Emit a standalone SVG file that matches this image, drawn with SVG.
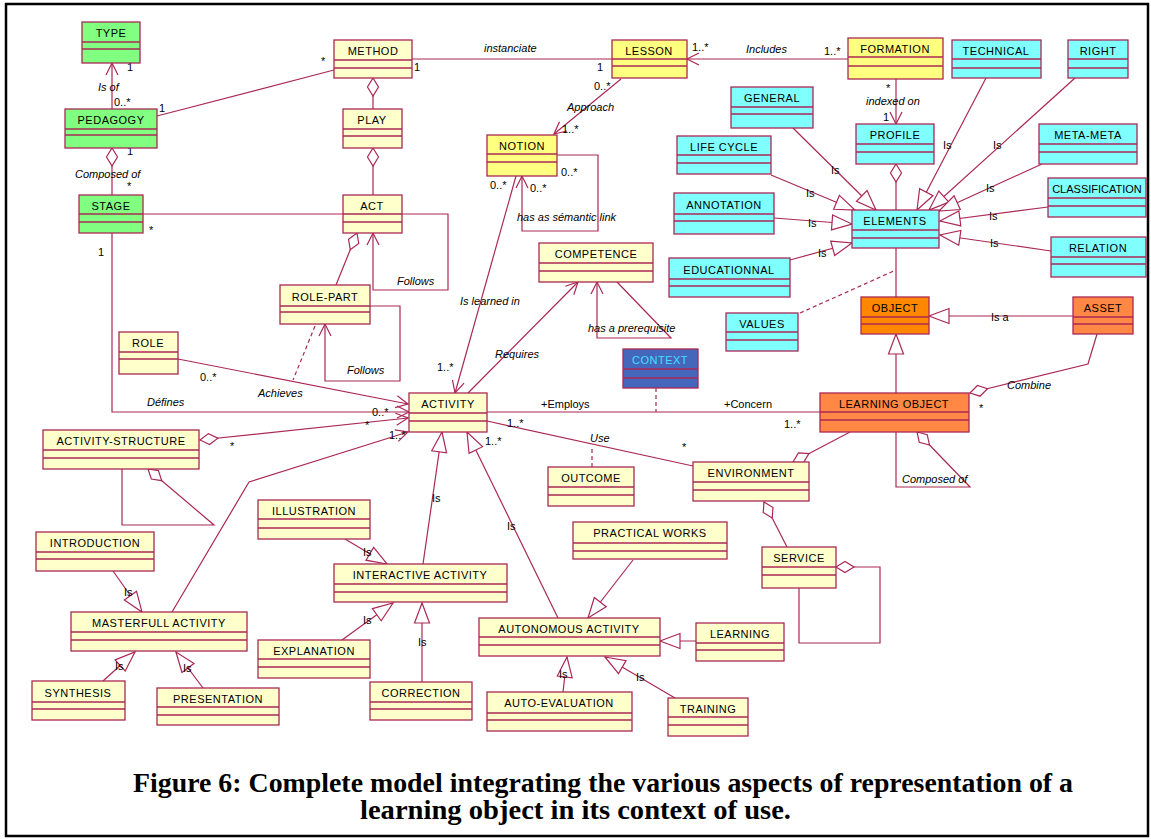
<svg xmlns="http://www.w3.org/2000/svg" width="1151" height="840" viewBox="0 0 1151 840">
<style>
.b rect{stroke:#AA2855;stroke-width:1.3}
.b line{stroke:#AA2855;stroke-width:1.3}
.b text{font-family:"Liberation Sans",Arial,sans-serif;font-size:11px;text-anchor:middle;fill:#000;letter-spacing:0.5px}
.g rect{fill:#80FF80}
.y rect{fill:#FFFFCC}
.ly rect{fill:#FFFF80}
.c rect{fill:#80FFFF}
.o rect{fill:#FF8800}
.o2 rect{fill:#FF8844}
.bl rect{fill:#4466BB}
.bl text{fill:#40E0FF}
.e{fill:none;stroke:#AA2855;stroke-width:1.2}
.d{stroke-dasharray:4 3}
.lb{font-family:"Liberation Sans",Arial,sans-serif;font-size:11px;fill:#000}
.it{font-style:italic}
.cap{font-family:"Liberation Serif","Times New Roman",serif;font-weight:bold;font-size:27px;fill:#000}
</style>
<defs>
<marker id="arr" markerUnits="userSpaceOnUse" markerWidth="14" markerHeight="14" refX="12" refY="6" orient="auto" overflow="visible"><path d="M0,0 L12,6 L0,12" fill="none" stroke="#AA2855" stroke-width="1.2"/></marker>
<marker id="tri" markerUnits="userSpaceOnUse" markerWidth="22" markerHeight="16" refX="20" refY="7.5" orient="auto" overflow="visible"><path d="M0,0 L20,7.5 L0,15 Z" fill="#fff" stroke="#AA2855" stroke-width="1.2"/></marker>
<marker id="dia" markerUnits="userSpaceOnUse" markerWidth="20" markerHeight="12" refX="0" refY="5.5" orient="auto" overflow="visible"><path d="M0,5.5 L9,0 L18,5.5 L9,11 Z" fill="#fff" stroke="#AA2855" stroke-width="1.2"/></marker>
</defs>
<rect x="0" y="0" width="1151" height="840" fill="#fff"/>
<rect x="6" y="4" width="1142" height="832" fill="none" stroke="#000" stroke-width="2.5"/>

<g id="connectors">
<path class="e" d="M112,109 L112,63" marker-end="url(#arr)"/>
<path class="e" d="M157,116 L334,70"/>
<path class="e" d="M112,148 L112,195" marker-start="url(#dia)"/>
<path class="e" d="M143,214 L343,214"/>
<path class="e" d="M112,233 L112,412 L409,412" marker-end="url(#arr)"/>
<path class="e" d="M412,59 L612,59"/>
<path class="e" d="M373,78 L373,109" marker-start="url(#dia)"/>
<path class="e" d="M373,148 L373,195" marker-start="url(#dia)"/>
<path class="e" d="M402,214 L448,214 L448,290 L373,290 L373,233" marker-end="url(#arr)"/>
<path class="e" d="M357,233 L336,285" marker-start="url(#dia)"/>
<path class="e" d="M370,306 L400,306 L400,381 L325,381 L325,324" marker-end="url(#arr)"/>
<path class="e d" d="M315,326 L293,380"/>
<path class="e" d="M178,359 L408,404" marker-end="url(#arr)"/>
<path class="e" d="M200,440 L408,418" marker-start="url(#dia)" marker-end="url(#arr)"/>
<path class="e" d="M148,469 L214,525 L122,525 L122,469" marker-start="url(#dia)"/>
<path class="e" d="M172,612 L249,482 L408,432" marker-end="url(#arr)"/>
<path class="e" d="M516,176 L455,393" marker-end="url(#arr)"/>
<path class="e" d="M468,393 L578,282" marker-end="url(#arr)"/>
<path class="e" d="M617,282 L671,338 L597,338 L597,282" marker-end="url(#arr)"/>
<path class="e" d="M621,79 L554,134" marker-end="url(#arr)"/>
<path class="e" d="M557,155 L598,155 L598,231 L522,231 L522,176" marker-end="url(#arr)"/>
<path class="e" d="M848,59 L687,59" marker-end="url(#arr)"/>
<path class="e" d="M896,79 L896,124" marker-end="url(#arr)"/>
<path class="e" d="M896,164 L896,210" marker-start="url(#dia)"/>
<path class="e" d="M793,128 L876,210" marker-end="url(#tri)"/>
<path class="e" d="M771,175 L855,210" marker-end="url(#tri)"/>
<path class="e" d="M774,218 L852,224" marker-end="url(#tri)"/>
<path class="e" d="M790,260 L852,243" marker-end="url(#tri)"/>
<path class="e" d="M986,78 L917,210" marker-end="url(#tri)"/>
<path class="e" d="M1075,78 L929,210" marker-end="url(#tri)"/>
<path class="e" d="M1042,164 L939,211" marker-end="url(#tri)"/>
<path class="e" d="M1048,207 L940,221" marker-end="url(#tri)"/>
<path class="e" d="M1051,251 L940,235" marker-end="url(#tri)"/>
<path class="e d" d="M800,313 L896,270"/>
<path class="e" d="M896,248 L896,297"/>
<path class="e" d="M1073,316 L929,316" marker-end="url(#tri)"/>
<path class="e" d="M896,393 L896,334" marker-end="url(#tri)"/>
<path class="e" d="M970,393 L1088,364 L1097,334" marker-start="url(#dia)"/>
<path class="e" d="M917,432 L970,487 L896,487 L896,432" marker-start="url(#dia)"/>
<path class="e" d="M487,412 L820,412"/>
<path class="e d" d="M656,388 L656,412"/>
<path class="e" d="M487,421 L693,466"/>
<path class="e d" d="M592,467 L592,446"/>
<path class="e" d="M793,462 L850,432" marker-start="url(#dia)"/>
<path class="e" d="M764,502 L787,547" marker-start="url(#dia)"/>
<path class="e" d="M836,567 L880,567 L880,643 L799,643 L799,588" marker-start="url(#dia)"/>
<path class="e" d="M633,560 L588,618" marker-end="url(#tri)"/>
<path class="e" d="M696,641 L660,641" marker-end="url(#tri)"/>
<path class="e" d="M675,698 L605,657" marker-end="url(#tri)"/>
<path class="e" d="M563,692 L567,657" marker-end="url(#tri)"/>
<path class="e" d="M558,618 L467,432" marker-end="url(#tri)"/>
<path class="e" d="M423,564 L442,432" marker-end="url(#tri)"/>
<path class="e" d="M345,539 L387,564" marker-end="url(#tri)"/>
<path class="e" d="M342,640 L393,603" marker-end="url(#tri)"/>
<path class="e" d="M422,682 L422,603" marker-end="url(#tri)"/>
<path class="e" d="M113,571 L142,612" marker-end="url(#tri)"/>
<path class="e" d="M103,681 L135,652" marker-end="url(#tri)"/>
<path class="e" d="M203,688 L176,652" marker-end="url(#tri)"/>
</g>

<g id="labels">
<text class="lb it" x="98" y="91">Is of</text>
<text class="lb" x="127" y="71">1</text>
<text class="lb" x="114" y="106">0..*</text>
<text class="lb" x="159" y="112">1</text>
<text class="lb" x="321" y="65">*</text>
<text class="lb" x="127" y="155">1</text>
<text class="lb it" x="75" y="178">Composed of</text>
<text class="lb" x="127" y="190">*</text>
<text class="lb" x="149" y="234">*</text>
<text class="lb" x="98" y="256">1</text>
<text class="lb it" x="147" y="406">Défines</text>
<text class="lb" x="372" y="416">0..*</text>
<text class="lb it" x="484" y="52">instanciate</text>
<text class="lb" x="414" y="71">1</text>
<text class="lb" x="597" y="71">1</text>
<text class="lb it" x="397" y="285">Follows</text>
<text class="lb it" x="347" y="374">Follows</text>
<text class="lb it" x="258" y="397">Achieves</text>
<text class="lb" x="200" y="381">0..*</text>
<text class="lb" x="230" y="450">*</text>
<text class="lb" x="365" y="429">*</text>
<text class="lb" x="389" y="439">1..*</text>
<text class="lb it" x="460" y="305">Is learned in</text>
<text class="lb" x="437" y="371">1..*</text>
<text class="lb" x="490" y="189">0..*</text>
<text class="lb it" x="495" y="358">Requires</text>
<text class="lb it" x="588" y="332">has a prerequisite</text>
<text class="lb" x="594" y="90">0..*</text>
<text class="lb it" x="567" y="111">Approach</text>
<text class="lb" x="562" y="133">1..*</text>
<text class="lb" x="561" y="176">0..*</text>
<text class="lb" x="530" y="192">0..*</text>
<text class="lb it" x="517" y="221">has as sémantic link</text>
<text class="lb it" x="746" y="53">Includes</text>
<text class="lb" x="692" y="51">1..*</text>
<text class="lb" x="824" y="55">1..*</text>
<text class="lb" x="886" y="92">*</text>
<text class="lb it" x="866" y="105">indexed on</text>
<text class="lb" x="883" y="121">1</text>
<text class="lb" x="831" y="174">Is</text>
<text class="lb" x="806" y="197">Is</text>
<text class="lb" x="808" y="227">Is</text>
<text class="lb" x="818" y="257">Is</text>
<text class="lb" x="943" y="149">Is</text>
<text class="lb" x="993" y="149">Is</text>
<text class="lb" x="986" y="192">Is</text>
<text class="lb" x="989" y="220">Is</text>
<text class="lb" x="990" y="247">Is</text>
<text class="lb" x="991" y="321">Is a</text>
<text class="lb it" x="1007" y="389">Combine</text>
<text class="lb" x="979" y="412">*</text>
<text class="lb" x="1108" y="337">*</text>
<text class="lb it" x="902" y="483">Composed of</text>
<text class="lb" x="541" y="408">+Employs</text>
<text class="lb" x="724" y="408">+Concern</text>
<text class="lb" x="784" y="428">1..*</text>
<text class="lb" x="507" y="427">1..*</text>
<text class="lb" x="485" y="445">1..*</text>
<text class="lb" x="682" y="451">*</text>
<text class="lb it" x="590" y="442">Use</text>
<text class="lb" x="507" y="530">Is</text>
<text class="lb" x="432" y="502">Is</text>
<text class="lb" x="363" y="556">Is</text>
<text class="lb" x="363" y="624">Is</text>
<text class="lb" x="418" y="646">Is</text>
<text class="lb" x="124" y="596">Is</text>
<text class="lb" x="115" y="670">Is</text>
<text class="lb" x="183" y="672">Is</text>
<text class="lb" x="636" y="681">Is</text>
<text class="lb" x="559" y="678">Is</text>
</g>

<g id="n-type" class="b g"><rect x="82" y="22" width="58" height="41"/><line x1="82" y1="42" x2="140" y2="42"/><line x1="82" y1="49" x2="140" y2="49"/><text x="111" y="37">TYPE</text></g>
<g id="n-pedagogy" class="b g"><rect x="65" y="109" width="92" height="39"/><line x1="65" y1="129" x2="157" y2="129"/><line x1="65" y1="135" x2="157" y2="135"/><text x="111" y="124">PEDAGOGY</text></g>
<g id="n-stage" class="b g"><rect x="79" y="195" width="64" height="38"/><line x1="79" y1="214" x2="143" y2="214"/><line x1="79" y1="222" x2="143" y2="222"/><text x="111" y="210">STAGE</text></g>
<g id="n-method" class="b y"><rect x="334" y="40" width="78" height="38"/><line x1="334" y1="60" x2="412" y2="60"/><line x1="334" y1="68" x2="412" y2="68"/><text x="373" y="55">METHOD</text></g>
<g id="n-play" class="b y"><rect x="343" y="109" width="59" height="39"/><line x1="343" y1="129" x2="402" y2="129"/><line x1="343" y1="136" x2="402" y2="136"/><text x="372" y="124">PLAY</text></g>
<g id="n-act" class="b y"><rect x="343" y="195" width="59" height="38"/><line x1="343" y1="214" x2="402" y2="214"/><line x1="343" y1="222" x2="402" y2="222"/><text x="372" y="210">ACT</text></g>
<g id="n-rolepart" class="b y"><rect x="280" y="285" width="90" height="39"/><line x1="280" y1="306" x2="370" y2="306"/><line x1="280" y1="312" x2="370" y2="312"/><text x="325" y="301">ROLE-PART</text></g>
<g id="n-role" class="b y"><rect x="119" y="332" width="59" height="42"/><line x1="119" y1="352" x2="178" y2="352"/><line x1="119" y1="359" x2="178" y2="359"/><text x="148" y="347">ROLE</text></g>
<g id="n-activity" class="b y"><rect x="409" y="393" width="78" height="39"/><line x1="409" y1="413" x2="487" y2="413"/><line x1="409" y1="421" x2="487" y2="421"/><text x="448" y="408">ACTIVITY</text></g>
<g id="n-activitystructure" class="b y"><rect x="43" y="430" width="156" height="39"/><line x1="43" y1="450" x2="199" y2="450"/><line x1="43" y1="458" x2="199" y2="458"/><text x="121" y="445">ACTIVITY-STRUCTURE</text></g>
<g id="n-lesson" class="b ly"><rect x="612" y="40" width="75" height="38"/><line x1="612" y1="59" x2="687" y2="59"/><line x1="612" y1="66" x2="687" y2="66"/><text x="649" y="55">LESSON</text></g>
<g id="n-formation" class="b ly"><rect x="848" y="38" width="95" height="41"/><line x1="848" y1="57" x2="943" y2="57"/><line x1="848" y1="66" x2="943" y2="66"/><text x="895" y="53">FORMATION</text></g>
<g id="n-notion" class="b ly"><rect x="487" y="135" width="70" height="41"/><line x1="487" y1="154" x2="557" y2="154"/><line x1="487" y1="162" x2="557" y2="162"/><text x="522" y="150">NOTION</text></g>
<g id="n-competence" class="b y"><rect x="539" y="243" width="114" height="39"/><line x1="539" y1="263" x2="653" y2="263"/><line x1="539" y1="271" x2="653" y2="271"/><text x="596" y="258">COMPETENCE</text></g>
<g id="n-context" class="b bl"><rect x="623" y="349" width="75" height="39"/><line x1="623" y1="369" x2="698" y2="369"/><line x1="623" y1="378" x2="698" y2="378"/><text x="660" y="364">CONTEXT</text></g>
<g id="n-general" class="b c"><rect x="731" y="87" width="82" height="41"/><line x1="731" y1="107" x2="813" y2="107"/><line x1="731" y1="114" x2="813" y2="114"/><text x="772" y="102">GENERAL</text></g>
<g id="n-lifecycle" class="b c"><rect x="677" y="136" width="94" height="38"/><line x1="677" y1="155" x2="771" y2="155"/><line x1="677" y1="163" x2="771" y2="163"/><text x="724" y="151">LIFE CYCLE</text></g>
<g id="n-annotation" class="b c"><rect x="674" y="193" width="100" height="41"/><line x1="674" y1="214" x2="774" y2="214"/><line x1="674" y1="221" x2="774" y2="221"/><text x="724" y="209">ANNOTATION</text></g>
<g id="n-educationnal" class="b c"><rect x="669" y="258" width="121" height="39"/><line x1="669" y1="279" x2="790" y2="279"/><line x1="669" y1="286" x2="790" y2="286"/><text x="729" y="274">EDUCATIONNAL</text></g>
<g id="n-values" class="b c"><rect x="726" y="313" width="72" height="38"/><line x1="726" y1="332" x2="798" y2="332"/><line x1="726" y1="340" x2="798" y2="340"/><text x="762" y="328">VALUES</text></g>
<g id="n-profile" class="b c"><rect x="856" y="124" width="78" height="40"/><line x1="856" y1="144" x2="934" y2="144"/><line x1="856" y1="152" x2="934" y2="152"/><text x="895" y="139">PROFILE</text></g>
<g id="n-technical" class="b c"><rect x="952" y="40" width="89" height="38"/><line x1="952" y1="59" x2="1041" y2="59"/><line x1="952" y1="68" x2="1041" y2="68"/><text x="996" y="55">TECHNICAL</text></g>
<g id="n-right" class="b c"><rect x="1068" y="40" width="60" height="38"/><line x1="1068" y1="59" x2="1128" y2="59"/><line x1="1068" y1="68" x2="1128" y2="68"/><text x="1098" y="55">RIGHT</text></g>
<g id="n-metameta" class="b c"><rect x="1039" y="124" width="98" height="40"/><line x1="1039" y1="144" x2="1137" y2="144"/><line x1="1039" y1="152" x2="1137" y2="152"/><text x="1088" y="139">META-META</text></g>
<g id="n-classification" class="b c"><rect x="1048" y="178" width="98" height="39"/><line x1="1048" y1="198" x2="1146" y2="198"/><line x1="1048" y1="206" x2="1146" y2="206"/><text x="1097" y="193" style="letter-spacing:0">CLASSIFICATION</text></g>
<g id="n-elements" class="b c"><rect x="852" y="210" width="87" height="38"/><line x1="852" y1="230" x2="939" y2="230"/><line x1="852" y1="238" x2="939" y2="238"/><text x="895" y="225">ELEMENTS</text></g>
<g id="n-relation" class="b c"><rect x="1051" y="237" width="95" height="40"/><line x1="1051" y1="257" x2="1146" y2="257"/><line x1="1051" y1="264" x2="1146" y2="264"/><text x="1098" y="252">RELATION</text></g>
<g id="n-object" class="b o"><rect x="861" y="297" width="68" height="37"/><line x1="861" y1="317" x2="929" y2="317"/><line x1="861" y1="324" x2="929" y2="324"/><text x="895" y="312">OBJECT</text></g>
<g id="n-asset" class="b o2"><rect x="1073" y="297" width="60" height="37"/><line x1="1073" y1="317" x2="1133" y2="317"/><line x1="1073" y1="324" x2="1133" y2="324"/><text x="1103" y="312">ASSET</text></g>
<g id="n-learningobject" class="b o2"><rect x="820" y="393" width="149" height="39"/><line x1="820" y1="412" x2="969" y2="412"/><line x1="820" y1="420" x2="969" y2="420"/><text x="894" y="408">LEARNING OBJECT</text></g>
<g id="n-environment" class="b y"><rect x="693" y="462" width="116" height="39"/><line x1="693" y1="482" x2="809" y2="482"/><line x1="693" y1="490" x2="809" y2="490"/><text x="751" y="477">ENVIRONMENT</text></g>
<g id="n-outcome" class="b y"><rect x="548" y="467" width="86" height="39"/><line x1="548" y1="487" x2="634" y2="487"/><line x1="548" y1="495" x2="634" y2="495"/><text x="591" y="482">OUTCOME</text></g>
<g id="n-practicalworks" class="b y"><rect x="573" y="522" width="154" height="37"/><line x1="573" y1="543" x2="727" y2="543"/><line x1="573" y1="551" x2="727" y2="551"/><text x="650" y="537">PRACTICAL WORKS</text></g>
<g id="n-service" class="b y"><rect x="762" y="547" width="74" height="41"/><line x1="762" y1="567" x2="836" y2="567"/><line x1="762" y1="575" x2="836" y2="575"/><text x="799" y="562">SERVICE</text></g>
<g id="n-autonomous" class="b y"><rect x="479" y="618" width="181" height="38"/><line x1="479" y1="637" x2="660" y2="637"/><line x1="479" y1="645" x2="660" y2="645"/><text x="569" y="633">AUTONOMOUS ACTIVITY</text></g>
<g id="n-learning" class="b y"><rect x="696" y="623" width="88" height="38"/><line x1="696" y1="643" x2="784" y2="643"/><line x1="696" y1="650" x2="784" y2="650"/><text x="740" y="638">LEARNING</text></g>
<g id="n-training" class="b y"><rect x="668" y="698" width="80" height="38"/><line x1="668" y1="717" x2="748" y2="717"/><line x1="668" y1="725" x2="748" y2="725"/><text x="708" y="713">TRAINING</text></g>
<g id="n-autoevaluation" class="b y"><rect x="487" y="692" width="145" height="39"/><line x1="487" y1="713" x2="632" y2="713"/><line x1="487" y1="720" x2="632" y2="720"/><text x="559" y="707">AUTO-EVALUATION</text></g>
<g id="n-interactive" class="b y"><rect x="334" y="564" width="173" height="38"/><line x1="334" y1="584" x2="507" y2="584"/><line x1="334" y1="592" x2="507" y2="592"/><text x="420" y="579">INTERACTIVE ACTIVITY</text></g>
<g id="n-illustration" class="b y"><rect x="258" y="500" width="112" height="39"/><line x1="258" y1="519" x2="370" y2="519"/><line x1="258" y1="528" x2="370" y2="528"/><text x="314" y="515">ILLUSTRATION</text></g>
<g id="n-explanation" class="b y"><rect x="258" y="640" width="112" height="38"/><line x1="258" y1="659" x2="370" y2="659"/><line x1="258" y1="667" x2="370" y2="667"/><text x="314" y="655">EXPLANATION</text></g>
<g id="n-correction" class="b y"><rect x="370" y="682" width="102" height="38"/><line x1="370" y1="702" x2="472" y2="702"/><line x1="370" y1="709" x2="472" y2="709"/><text x="421" y="697">CORRECTION</text></g>
<g id="n-masterfull" class="b y"><rect x="71" y="612" width="176" height="39"/><line x1="71" y1="632" x2="247" y2="632"/><line x1="71" y1="640" x2="247" y2="640"/><text x="159" y="627">MASTERFULL ACTIVITY</text></g>
<g id="n-introduction" class="b y"><rect x="36" y="532" width="118" height="39"/><line x1="36" y1="552" x2="154" y2="552"/><line x1="36" y1="559" x2="154" y2="559"/><text x="95" y="547">INTRODUCTION</text></g>
<g id="n-synthesis" class="b y"><rect x="32" y="681" width="93" height="39"/><line x1="32" y1="702" x2="125" y2="702"/><line x1="32" y1="709" x2="125" y2="709"/><text x="78" y="697">SYNTHESIS</text></g>
<g id="n-presentation" class="b y"><rect x="157" y="688" width="122" height="37"/><line x1="157" y1="707" x2="279" y2="707"/><line x1="157" y1="715" x2="279" y2="715"/><text x="218" y="703">PRESENTATION</text></g>

<text class="cap" x="133" y="792" textLength="940" lengthAdjust="spacingAndGlyphs">Figure 6: Complete model integrating the various aspects of representation of a</text>
<text class="cap" x="360" y="819" textLength="431" lengthAdjust="spacingAndGlyphs">learning object in its context of use.</text>
</svg>
